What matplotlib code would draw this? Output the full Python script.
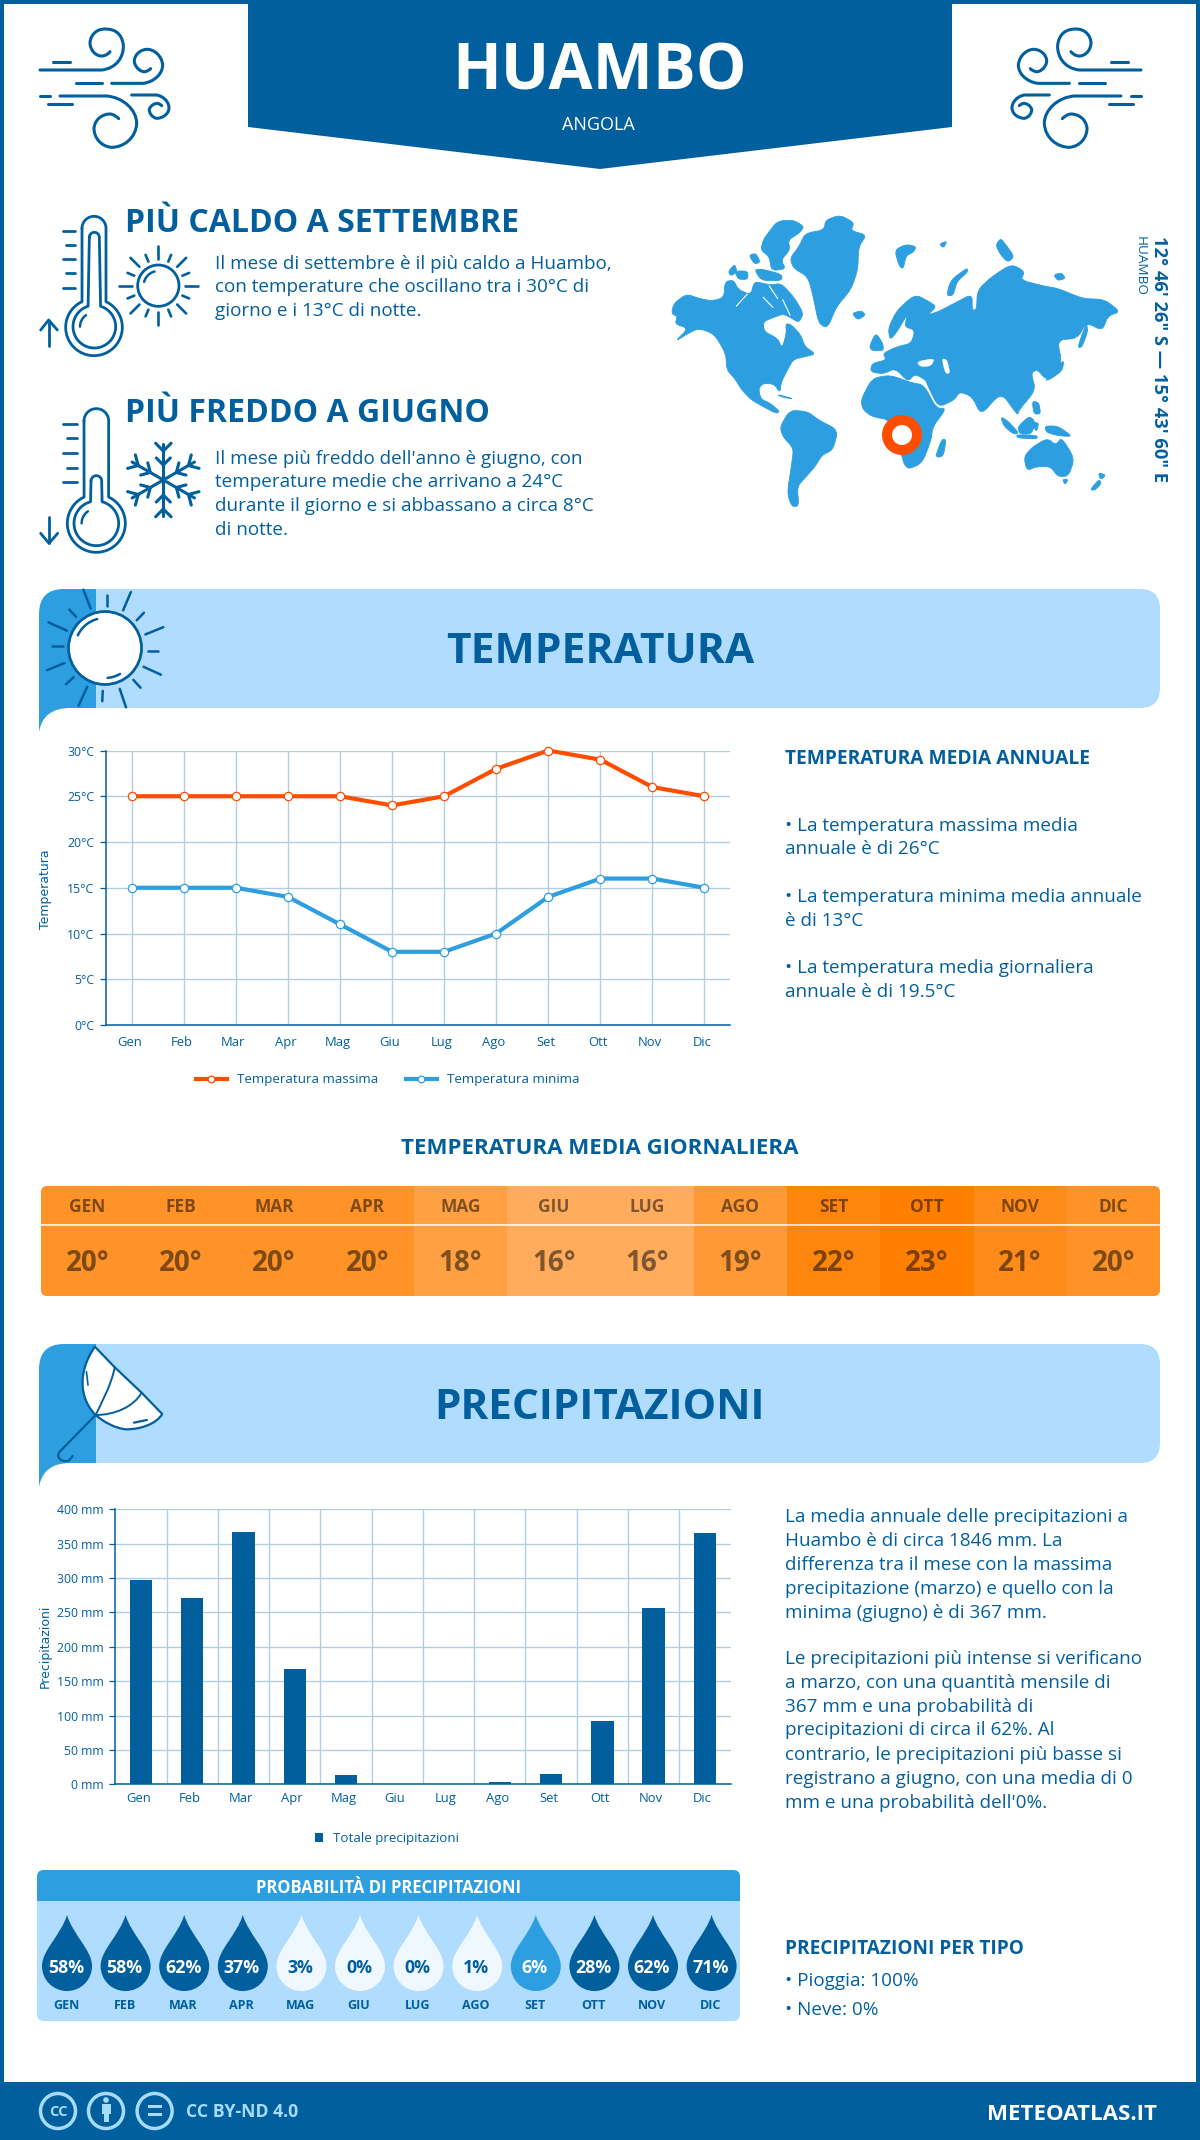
import numpy as np
import matplotlib
matplotlib.use("Agg")
import matplotlib.pyplot as plt
from matplotlib.path import Path
from matplotlib.patches import PathPatch, Polygon, Rectangle, FancyBboxPatch, Circle
from matplotlib.transforms import ScaledTranslation

plt.rcParams['font.family'] = ['Open Sans', 'DejaVu Sans']

BLUE = '#025f9e'
MID = '#2d9fe0'
LIGHT = '#b0dcff'
PALE = '#eff8ff'
ORANGE = '#ff4d00'
GRID = '#b0cde0'
FOOT = '#a6dcff'

# ---- data ----
months = ['Gen', 'Feb', 'Mar', 'Apr', 'Mag', 'Giu', 'Lug', 'Ago', 'Set', 'Ott', 'Nov', 'Dic']
temp_max = [25, 25, 25, 25, 25, 24, 25, 28, 30, 29, 26, 25]
temp_min = [15, 15, 15, 14, 11, 8, 8, 10, 14, 16, 16, 15]
temp_mean = [20, 20, 20, 20, 18, 16, 16, 19, 22, 23, 21, 20]
rain_mm = [297, 271, 367, 168, 13, 0, 0, 3, 15, 92, 256, 365]
rain_prob = [58, 58, 62, 37, 3, 0, 0, 1, 6, 28, 62, 71]
temp_ticks = [0, 5, 10, 15, 20, 25, 30]
rain_ticks = [0, 50, 100, 150, 200, 250, 300, 350, 400]

hot_lines = ["Il mese di settembre è il più caldo a Huambo,",
             "con temperature che oscillano tra i 30°C di",
             "giorno e i 13°C di notte."]
cold_lines = ["Il mese più freddo dell'anno è giugno, con",
              "temperature medie che arrivano a 24°C",
              "durante il giorno e si abbassano a circa 8°C",
              "di notte."]
temp_notes = ["• La temperatura massima media", "annuale è di 26°C",
              "• La temperatura minima media annuale", "è di 13°C",
              "• La temperatura media giornaliera", "annuale è di 19.5°C"]
rain_notes = ["La media annuale delle precipitazioni a", "Huambo è di circa 1846 mm. La",
              "differenza tra il mese con la massima", "precipitazione (marzo) e quello con la",
              "minima (giugno) è di 367 mm.",
              "Le precipitazioni più intense si verificano", "a marzo, con una quantità mensile di",
              "367 mm e una probabilità di", "precipitazioni di circa il 62%. Al",
              "contrario, le precipitazioni più basse si", "registrano a giugno, con una media di 0",
              "mm e una probabilità dell'0%."]

fig = plt.figure(figsize=(12, 21.4), dpi=100, facecolor='white')
bg = fig.add_axes([0, 0, 1, 1])
bg.set_xlim(0, 1200)
bg.set_ylim(2140, 0)
bg.axis('off')


def svg_path(d, fx=lambda x, y: (x, y)):
    tok = d.replace(',', ' ').split()
    verts, codes = [], []
    i = 0
    cmd = None
    while i < len(tok):
        if tok[i] in 'MLCQZ':
            cmd = tok[i]
            i += 1
            if cmd == 'Z':
                verts.append(verts[0])
                codes.append(Path.CLOSEPOLY)
                continue
        n = {'M': 1, 'L': 1, 'Q': 2, 'C': 3}[cmd]
        kind = {'M': Path.MOVETO, 'L': Path.LINETO, 'Q': Path.CURVE3, 'C': Path.CURVE4}[cmd]
        for _ in range(n):
            verts.append(fx(float(tok[i]), float(tok[i + 1])))
            codes.append(kind)
            i += 2
    return Path(verts, codes)


def draw(d, fx=lambda x, y: (x, y), fc='none', ec='none', lw=0, z=2):
    bg.add_patch(PathPatch(svg_path(d, fx), facecolor=fc, edgecolor=ec, linewidth=lw,
                           capstyle='round', joinstyle='round', zorder=z))


def stroke(xs, ys, lw=2.0, color=BLUE, z=3):
    bg.plot(xs, ys, color=color, lw=lw, solid_capstyle='round', solid_joinstyle='round', zorder=z)


def label(x, y, s, size, weight='normal', color=BLUE, ha='left', **kw):
    return bg.text(x, y, s, fontsize=size, fontweight=weight, color=color, ha=ha, va='baseline', zorder=6, **kw)


def arc(cx, cy, r, a0, a1, n=60):
    a = np.radians(np.linspace(a0, a1, n))
    return cx + r * np.cos(a), cy + r * np.sin(a)


# ---- frame and header ----
bg.add_patch(Rectangle((0, 0), 4, 2140, fc=BLUE, zorder=1))
bg.add_patch(Rectangle((1196, 0), 4, 2140, fc=BLUE, zorder=1))
bg.add_patch(Rectangle((0, 0), 1200, 4, fc=BLUE, zorder=1))
bg.add_patch(Rectangle((0, 2082), 1200, 58, fc=BLUE, zorder=1))
draw("M 248,0 L 952,0 L 952,127 L 600,169 L 248,127 Z", fc=BLUE)
label(600, 89, "HUAMBO", 46, 'bold', 'white', ha='center')
label(598, 130, "ANGOLA", 13, 'normal', 'white', ha='center')

wind = ["M 60,180 L 245,180 C 290,175 312,140 310,105 C 305,70 285,57 255,57 C 225,57 210,80 210,100 C 212,125 230,138 245,138 C 255,138 265,132 270,125",
        "M 275,220 L 370,220 C 405,215 428,190 428,165 C 425,135 400,117 380,118 C 355,120 342,140 343,155 C 346,175 365,187 375,185 C 383,183 388,180 392,176",
        "M 168,220 L 245,220", "M 98,155 L 150,155", "M 60,258 L 90,258", "M 85,283 L 155,283",
        "M 120,258 L 260,258 C 310,262 350,300 350,340 C 348,385 310,412 275,412 C 245,410 222,385 222,355 C 225,325 250,312 270,312 C 282,313 290,320 296,326",
        "M 335,255 L 410,255 C 435,260 448,280 447,295 C 445,315 425,325 410,325 C 395,322 387,308 388,298 C 392,285 405,280 412,280 C 418,281 422,284 425,287"]
for d in wind:
    draw(d, lambda x, y: (20 + x / 3, 10 + y / 3), ec=BLUE, lw=2.2)
    draw(d, lambda x, y: (1181 - (20 + x / 3), 10 + y / 3), ec=BLUE, lw=2.2)


# ---- thermometers ----
def thermo_hot(ox, oy):
    zx = lambda x: ox + x / 3
    zy = lambda y: oy + y / 3
    a, b = arc(222, 85, 36, 180, 360)
    c, d = arc(222, 382, 85, -65, 245)
    stroke(zx(np.r_[a, c, a[0]]), zy(np.r_[b, d, b[0]]))
    a, b = arc(223, 112, 15, 180, 360, 20)
    c, d = arc(223, 380, 64, -73, 253)
    stroke(zx(np.r_[a, c, a[0]]), zy(np.r_[b, d, b[0]]))
    a, b = arc(222, 380, 42, 180, 235, 15)
    stroke(zx(a), zy(b), 1.8)
    for y, x0 in zip([93, 135, 178, 220, 263], [128, 138, 128, 138, 128]):
        stroke(zx(np.array([x0, 165])), zy(np.array([y, y])))
    stroke(zx(np.array([86, 86])), zy(np.array([438, 362])))
    stroke(zx(np.array([62, 86, 112])), zy(np.array([390, 360, 390])))


def thermo_cold(ox, oy):
    zx = lambda x: ox + x / 3
    zy = lambda y: oy + y / 3
    a, b = arc(229, 78, 37, 180, 360)
    c, d = arc(229, 385, 87, -65, 245)
    stroke(zx(np.r_[a, c, a[0]]), zy(np.r_[b, d, b[0]]))
    a, b = arc(229, 258, 16, 180, 360, 20)
    c, d = arc(229, 385, 67, -75, 255)
    stroke(zx(np.r_[a, c, a[0]]), zy(np.r_[b, d, b[0]]))
    a, b = arc(229, 385, 44, 180, 235, 15)
    stroke(zx(a), zy(b), 1.8)
    for y, x0 in zip([86, 130, 174, 218, 262], [130, 140, 130, 140, 130]):
        stroke(zx(np.array([x0, 170])), zy(np.array([y, y])))
    stroke(zx(np.array([87, 87])), zy(np.array([365, 445])))
    stroke(zx(np.array([62, 87, 113])), zy(np.array([415, 445, 415])))


def small_sun(ox, oy):
    cx, cy = ox + 415 / 3, oy + 257 / 3
    bg.add_patch(Circle((cx, cy), 62 / 3, fc='none', ec=BLUE, lw=2.0, zorder=3))
    a, b = arc(cx, cy, 44 / 3, 195, 255, 15)
    stroke(a, b, 1.8)
    for k in range(16):
        ang = np.radians(k * 22.5)
        r0, r1 = (80, 118) if k % 2 == 0 else (78, 100)
        stroke(cx + np.array([r0, r1]) / 3 * np.cos(ang), cy + np.array([r0, r1]) / 3 * np.sin(ang), 1.9)


def snowflake(cx, cy):
    for k in range(6):
        ang = np.radians(90 + k * 60)
        ux, uy = np.cos(ang), np.sin(ang)
        stroke([cx, cx + 36 * ux], [cy, cy + 36 * uy], 2.2)
        for dist, arm in [(15, 10), (29, 11)]:
            px, py = cx + dist * ux, cy + dist * uy
            for s in [-45, 45]:
                b = ang + np.radians(s)
                stroke([px, px + arm * np.cos(b)], [py, py + arm * np.sin(b)], 2.2)


thermo_hot(20, 200)
small_sun(20, 200)
thermo_cold(20, 395)
snowflake(20 + 430 / 3, 395 + 255 / 3)

label(125, 232, "PIÙ CALDO A SETTEMBRE", 23, 'bold')
for i, s in enumerate(hot_lines):
    label(215, [269, 292, 316][i], s, 13.55)
label(125, 422, "PIÙ FREDDO A GIUGNO", 23, 'bold')
for i, s in enumerate(cold_lines):
    label(215, [464, 487, 511, 535][i], s, 13.55)

# ---- world map (hand traced outlines) ----
north_america = [(88, 340), (95, 310), (130, 282), (165, 295), (200, 303), (235, 293), (238, 245), (262, 240), (275, 268), (310, 285), (320, 245), (345, 250), (365, 255), (395, 250), (430, 290), (458, 340), (445, 368), (420, 352), (400, 342), (375, 352), (345, 365), (348, 395), (385, 415), (398, 445), (410, 400), (408, 370), (425, 375), (450, 405), (462, 440), (492, 462), (462, 470), (430, 478), (415, 505), (395, 548), (392, 578), (375, 552), (345, 550), (332, 565), (338, 597), (365, 610), (392, 635), (380, 640), (345, 620), (312, 600), (285, 570), (265, 535), (243, 510), (240, 460), (208, 402), (165, 385), (135, 400), (98, 425), (135, 385), (98, 372), (105, 350)]
greenland = [(420, 175), (445, 140), (462, 100), (515, 90), (520, 60), (560, 45), (600, 68), (590, 92), (635, 105), (612, 140), (610, 210), (590, 270), (550, 320), (525, 385), (500, 370), (485, 290), (470, 230), (430, 205)]
south_america = [(392, 680), (420, 630), (470, 635), (500, 660), (555, 690), (540, 750), (510, 765), (490, 800), (465, 830), (440, 860), (445, 918), (425, 920), (412, 880), (425, 790), (430, 745), (400, 710)]
africa = [(618, 600), (650, 535), (700, 525), (760, 548), (795, 555), (830, 625), (858, 625), (820, 680), (815, 720), (790, 790), (745, 810), (725, 740), (700, 660), (650, 650), (625, 630)]
eurasia = [(645, 515), (650, 490), (690, 480), (680, 460), (720, 440), (760, 430), (770, 390), (740, 380), (750, 340), (720, 395), (700, 420), (695, 385), (720, 330), (770, 283), (810, 305), (830, 320), (805, 345), (835, 335), (880, 310), (930, 282), (930, 330), (942, 330), (945, 270), (985, 230), (1040, 192), (1078, 215), (1065, 240), (1130, 258), (1170, 265), (1240, 296), (1300, 298), (1345, 335), (1310, 348), (1295, 392), (1250, 368), (1225, 415), (1168, 420), (1182, 490), (1140, 542), (1112, 508), (1095, 520), (1108, 570), (1060, 632), (1058, 645), (1040, 620), (1020, 590), (1000, 590), (955, 645), (930, 590), (895, 575), (880, 600), (835, 622), (805, 555), (800, 540), (770, 522), (750, 545), (715, 505), (680, 522)]
australia = [(1075, 770), (1100, 740), (1140, 715), (1165, 735), (1180, 712), (1217, 775), (1200, 828), (1170, 830), (1150, 800), (1110, 800), (1083, 812)]
islands = [[(358, 100), (385, 63), (430, 60), (460, 80), (445, 100), (415, 120), (420, 150), (395, 180), (408, 207), (368, 212), (362, 170), (338, 150), (345, 120)],
           [(247, 215), (265, 192), (272, 215), (255, 228)], [(265, 213), (302, 213), (302, 238), (275, 238)],
           [(305, 165), (325, 160), (337, 187), (320, 192)], [(320, 208), (345, 208), (397, 223), (397, 242), (340, 242)],
           [(593, 340), (620, 332), (632, 345), (610, 360)], [(713, 150), (745, 133), (774, 140), (765, 157), (745, 167), (737, 207), (725, 197)],
           [(838, 132), (860, 123), (850, 144)], [(996, 135), (1010, 115), (1025, 135), (1048, 170), (1030, 187), (1010, 165)],
           [(1158, 225), (1180, 218), (1192, 235), (1170, 242)], [(858, 287), (870, 240), (917, 203), (917, 217), (887, 245), (877, 287)],
           [(642, 440), (660, 398), (680, 430), (682, 452), (650, 452)], [(1133, 542), (1175, 490), (1187, 483), (1182, 512), (1150, 537)],
           [(1225, 442), (1250, 368), (1254, 395), (1237, 442)], [(1098, 603), (1117, 608), (1122, 642), (1103, 642)],
           [(1058, 680), (1090, 648), (1107, 665), (1097, 702), (1063, 702)], [(1010, 650), (1030, 663), (1062, 700), (1045, 702), (1018, 677)],
           [(1053, 704), (1112, 706), (1112, 717), (1058, 714)], [(1098, 668), (1117, 668), (1110, 697)],
           [(1133, 678), (1170, 678), (1212, 710), (1170, 707), (1138, 697)], [(1183, 838), (1199, 838), (1190, 854)],
           [(1260, 870), (1285, 838), (1292, 850), (1275, 870)], [(1283, 818), (1305, 825), (1290, 840)],
           [(828, 767), (845, 718), (857, 718), (850, 767), (835, 772)], [(383, 583), (432, 597), (400, 592)]]
seas = [[(775, 485), (825, 475), (815, 498), (785, 500)], [(845, 475), (860, 480), (868, 520), (855, 520)]]
channels = [[(270, 318), (300, 283)], [(345, 292), (372, 322)], [(362, 258), (385, 295)], [(400, 300), (420, 345)]]


def smooth(pts, n=1):
    # corner cutting so that the outlines look less like shards
    p = np.array(pts, float)
    for _ in range(n):
        q = np.roll(p, -1, axis=0)
        p = np.column_stack([0.8 * p + 0.2 * q, 0.2 * p + 0.8 * q]).reshape(-1, 2)
    return p


def map_xy(p):
    p = np.asarray(p, float)
    return np.column_stack([640 + p[:, 0] / 2.8, 200 + p[:, 1] / 3])


for poly in [north_america, greenland, south_america, africa, eurasia, australia] + islands:
    bg.add_patch(Polygon(map_xy(smooth(poly, 2)), closed=True, fc=MID, ec=MID, lw=0.6, zorder=2))
for poly in seas:
    bg.add_patch(Polygon(map_xy(smooth(poly, 2)), closed=True, fc='white', ec='white', lw=0.3, zorder=2))
for line in channels:
    xy = map_xy(line)
    bg.plot(xy[:, 0], xy[:, 1], color='white', lw=0.8, zorder=2)
bg.add_patch(Circle((902, 435), 15, fc='white', ec=ORANGE, lw=7.2, zorder=4))

label(1154, 236, "12° 46' 26\" S — 15° 43' 60\" E", 13.2, 'bold', rotation=-90, rotation_mode='anchor')
label(1137, 236, "HUAMBO", 9.7, 'normal', rotation=-90, rotation_mode='anchor')


# ---- section banners ----
def banner(top, bottom):
    draw(f"M 96,{top} L 1140,{top} Q 1160,{top} 1160,{top + 20} L 1160,{bottom - 20} Q 1160,{bottom} 1140,{bottom} L 96,{bottom} Z", fc=LIGHT)
    draw(f"M 39,{top + 25} Q 39,{top} 64,{top} L 96,{top} L 96,{bottom} L 70,{bottom} Q 43,{bottom} 39,{bottom + 24} Z", fc=MID)


banner(589, 708)
banner(1344, 1463)
label(600, 663, "TEMPERATURA", 30.6, 'bold', ha='center')
label(600, 1419, "PRECIPITAZIONI", 30.4, 'bold', ha='center')

# sun in the temperature banner
sun_rays = [((172, 28), (187, 83)), ((220, 45), (220, 75)), ((270, 35), (254, 88)), ((297, 95), (282, 117)),
            ((337, 137), (300, 158)), ((305, 205), (326, 205)), ((332, 275), (296, 252)), ((275, 290), (290, 313)),
            ((247, 316), (260, 370)), ((212, 322), (211, 352)), ((180, 310), (162, 365)), ((152, 282), (136, 303)),
            ((133, 241), (97, 262)), ((107, 193), (130, 193)), ((138, 147), (100, 123)), ((157, 107), (143, 86))]
for p, q in sun_rays:
    stroke([p[0] / 2.063, q[0] / 2.063], [580 + p[1] / 2.904, 580 + q[1] / 2.904], 1.8)
bg.add_patch(Circle((105, 648), 36.5, fc='white', ec=BLUE, lw=2.0, zorder=4))
a, b = arc(105, 648, 30, 205, 255, 15)
stroke(a, b, 1.8, z=5)
a, b = arc(105, 648, 30, 60, 85, 10)
stroke(a, b, 1.8, z=5)

# umbrella in the rain banner
uz = lambda x, y: (x / 1.307, 1130 + y / 3)
draw("M 124,650 L 150,712 L 185,788 L 212,852 C 205,880 185,898 165,898 C 150,895 135,875 125,855 C 105,810 100,730 124,650 Z", uz, fc='white', ec=BLUE, lw=1.6, z=3)
draw("M 150,712 C 145,770 130,830 125,855", uz, ec=BLUE, lw=1.4, z=4)
draw("M 185,788 C 175,830 150,855 125,855", uz, ec=BLUE, lw=1.4, z=4)
draw("M 125,855 L 78,965 C 72,985 82,998 90,992 L 95,978", uz, ec=BLUE, lw=1.6, z=4)
draw("M 175,878 L 192,870", uz, ec=BLUE, lw=1.6, z=4)
draw("M 113,725 L 115,765", uz, ec=BLUE, lw=1.2, z=4)


# ---- charts ----
def chart_axes(x0, x1, y0, y1, xpad):
    ax = fig.add_axes([x0 / 1200, 1 - y1 / 2140, (x1 - x0) / 1200, (y1 - y0) / 2140])
    ax.patch.set_alpha(0)
    ax.set_axisbelow(True)
    for side in ['top', 'right']:
        ax.spines[side].set_visible(False)
    for side in ['left', 'bottom']:
        ax.spines[side].set_color(BLUE)
        ax.spines[side].set_linewidth(1.1)
    ax.tick_params(axis='y', length=4.3, width=0.9, color=BLUE, labelcolor=BLUE, labelsize=8.8, pad=4)
    ax.tick_params(axis='x', length=0, labelcolor=BLUE, labelsize=9.4, pad=xpad)
    return ax


def nudge_xlabels(ax, px):
    for lbl in ax.get_xticklabels():
        lbl.set_transform(lbl.get_transform() + ScaledTranslation(px / 100, 0, fig.dpi_scale_trans))


ax_t = chart_axes(105.7, 730.5, 750.5, 1025, 8)
x = np.arange(12)
ax_t.grid(True, color=GRID, lw=0.95)
ax_t.plot(x, temp_max, color=ORANGE, lw=3, marker='o', ms=6, mfc='white', mec=ORANGE, mew=0.9, clip_on=False, label='Temperatura massima')
ax_t.plot(x, temp_min, color=MID, lw=3, marker='o', ms=6, mfc='white', mec=MID, mew=0.9, clip_on=False, label='Temperatura minima')
ax_t.set_xlim(-0.5, 11.5)
ax_t.set_ylim(0, 30)
ax_t.set_xticks(x, months)
nudge_xlabels(ax_t, -2.5)
ax_t.set_yticks(temp_ticks, [f'{v}°C' for v in temp_ticks])
ax_t.set_ylabel('Temperatura', family='DejaVu Sans', fontsize=9, color=BLUE)
ax_t.yaxis.set_label_coords((52 - 105.7) / 624.8, 0.495)
ax_t.legend(loc='center', bbox_to_anchor=(387.5 / 1200, 1 - 1080 / 2140), bbox_transform=fig.transFigure, ncol=2,
            frameon=False, fontsize=9.6, labelcolor=BLUE, handlelength=2.3, handletextpad=0.75, columnspacing=2.1, markerscale=0.8)

ax_r = chart_axes(115.4, 730.5, 1509.3, 1784.3, 5.5)
ax_r.bar(x, rain_mm, width=0.435, color=BLUE, label='Totale precipitazioni')
ax_r.set_xlim(-0.5, 11.5)
ax_r.set_ylim(0, 400)
ax_r.set_xticks(x, months)
nudge_xlabels(ax_r, -2.5)
ax_r.set_xticks(x[:-1] + 0.5, minor=True)
ax_r.tick_params(axis='x', which='minor', length=0)
ax_r.grid(True, axis='y', color=GRID, lw=0.95)
ax_r.grid(True, axis='x', which='minor', color=GRID, lw=0.95)
ax_r.set_yticks(rain_ticks, [f'{v} mm' for v in rain_ticks])
ax_r.set_ylabel('Precipitazioni', family='DejaVu Sans', fontsize=9, color=BLUE)
ax_r.yaxis.set_label_coords((52 - 115.4) / 615.1, 0.5)
ax_r.legend(loc='center', bbox_to_anchor=(387 / 1200, 1 - 1838.7 / 2140), bbox_transform=fig.transFigure,
            frameon=False, fontsize=9.6, labelcolor=BLUE, handlelength=0.6, handleheight=0.6, handletextpad=0.7)

# ---- right column text ----
label(785, 764, "TEMPERATURA MEDIA ANNUALE", 13.8, 'bold')
for s, y in zip(temp_notes, [831, 854, 902, 926, 973, 997]):
    label(785, y, s, 13.6)
for s, y in zip(rain_notes, [1522, 1546, 1570, 1594, 1618, 1664, 1688, 1712, 1735, 1760, 1784, 1808]):
    label(785, y, s, 13.55)
label(785, 1954, "PRECIPITAZIONI PER TIPO", 13.7, 'bold')
label(785, 1986, "• Pioggia: 100%", 13.6)
label(785, 2015, "• Neve: 0%", 13.6)

# ---- daily mean table ----
label(600, 1154, "TEMPERATURA MEDIA GIORNALIERA", 16, 'bold', ha='center')
tbl_x0, tbl_x1, tbl_y0, tbl_y1 = 41, 1160, 1186, 1296
cell_w = (tbl_x1 - tbl_x0) / 12
clip = FancyBboxPatch((tbl_x0, tbl_y0), tbl_x1 - tbl_x0, tbl_y1 - tbl_y0, boxstyle='round,pad=0,rounding_size=6', fc='none', ec='none', transform=bg.transData)
bg.add_patch(clip)
for i, v in enumerate(temp_mean):
    t = (23 - v) / 7
    col = (1.0, (127 + 46 * t) / 255, (92 * t) / 255)
    r = Rectangle((tbl_x0 + i * cell_w, tbl_y0), cell_w + 0.5, tbl_y1 - tbl_y0, fc=col, ec='none', zorder=2)
    bg.add_patch(r)
    r.set_clip_path(clip)
    cx = tbl_x0 + (i + 0.5) * cell_w
    label(cx, 1212, months[i].upper(), 12.5, 'bold', 'black', ha='center', alpha=0.5)
    label(cx, 1271, f'{v}°', 20, 'bold', 'black', ha='center', alpha=0.5)
bg.plot([tbl_x0, tbl_x1], [1225, 1225], color='white', lw=1.1, zorder=3)

# ---- rain probability panel ----
bg.add_patch(FancyBboxPatch((37, 1870), 703, 151, boxstyle='round,pad=0,rounding_size=7', fc=LIGHT, ec='none', zorder=1))
draw("M 37,1901 L 37,1877 Q 37,1870 44,1870 L 733,1870 Q 740,1870 740,1877 L 740,1901 Z", fc=MID)
label(389, 1893, "PROBABILITÀ DI PRECIPITAZIONI", 12, 'bold', 'white', ha='center')
for i, p in enumerate(rain_prob):
    cx = 67 + i * 58.6
    col = BLUE if p >= 10 else (MID if p >= 5 else PALE)
    draw(f"M {cx},1915 C {cx + 6},1935 {cx + 25},1950 {cx + 25},1966 C {cx + 25},1980 {cx + 14},1991 {cx},1991 "
         f"C {cx - 14},1991 {cx - 25},1980 {cx - 25},1966 C {cx - 25},1950 {cx - 6},1935 {cx},1915 Z", fc=col)
    label(cx - 1, 1973, f'{p}%', 12.8, 'bold', BLUE if p < 5 else 'white', ha='center')
    label(cx - 1, 2009, months[i].upper(), 9, 'bold', ha='center')

# ---- footer ----
for cx in [58, 106, 154.6]:
    bg.add_patch(Circle((cx, 2111), 17.5, fc='none', ec=FOOT, lw=2.5, zorder=3))
label(58, 2116, "CC", 10.5, 'bold', FOOT, ha='center')
bg.add_patch(Circle((106, 2100), 2.8, fc=FOOT, ec='none', zorder=3))
bg.add_patch(Rectangle((101.5, 2104), 9, 10, fc=FOOT, ec='none', zorder=3))
bg.add_patch(Rectangle((103.5, 2113), 5, 9, fc=FOOT, ec='none', zorder=3))
bg.add_patch(Rectangle((147.5, 2104.5), 14, 3.5, fc=FOOT, ec='none', zorder=3))
bg.add_patch(Rectangle((147.5, 2112.5), 14, 3.5, fc=FOOT, ec='none', zorder=3))
label(185.5, 2117, "CC BY-ND 4.0", 12.7, 'bold', FOOT)
label(1157, 2120, "METEOATLAS.IT", 16, 'bold', 'white', ha='right')

fig.savefig('out.png', dpi=100, facecolor='white')
